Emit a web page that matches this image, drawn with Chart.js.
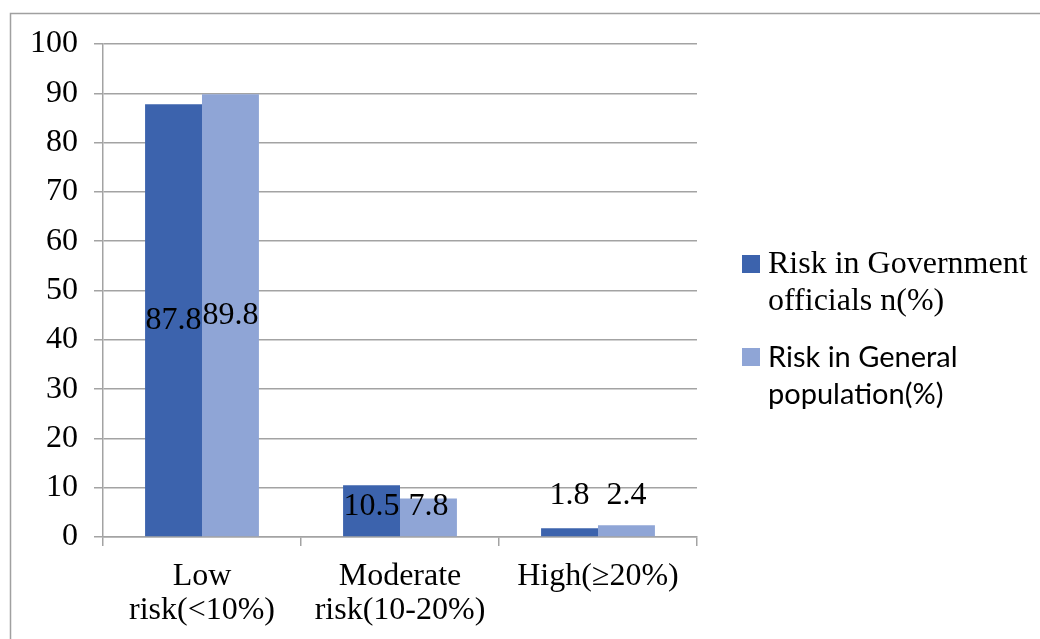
<!DOCTYPE html>
<html><head><meta charset="utf-8">
<script src="https://cdn.jsdelivr.net/npm/chart.js@4.4.0/dist/chart.umd.min.js"></script>
<style>html,body{margin:0;padding:0;background:#fff;overflow:hidden}</style>
</head><body>
<canvas id="c" width="1040" height="639"></canvas>
<script>
const categories = [['Low', 'risk(<10%)'], ['Moderate', 'risk(10-20%)'], ['High(≥20%)']];
const govValues = [87.8, 10.5, 1.8];
const popValues = [89.8, 7.8, 2.4];
const seriesNames = ['Risk in Government officials n(%)', 'Risk in General population(%)'];
const legendLines = [['Risk in Government', 'officials n(%)'], ['Risk in General', 'population(%)']];
const yMin = 0, yMax = 100, yStep = 10;

const SERIF = '"Liberation Serif", "Times New Roman", Times, "DejaVu Serif", serif';
const colors = ['#3C63AD', '#8FA5D6'];
const legendFonts = ['32px ' + SERIF, '29px Lato, "Open Sans", sans-serif'];
const gridColor = '#a3a3a3';

const framePlugin = {
  id: 'frame',
  beforeDraw(chart) {
    const ctx = chart.ctx;
    ctx.save();
    ctx.fillStyle = '#fff';
    ctx.fillRect(0, 0, chart.width, chart.height);
    ctx.strokeStyle = '#a0a0a0';
    ctx.lineWidth = 1.5;
    ctx.beginPath();
    ctx.moveTo(10.5, chart.height);
    ctx.lineTo(10.5, 13.5);
    ctx.lineTo(chart.width, 13.5);
    ctx.stroke();
    ctx.restore();
  }
};

const labelPlugin = {
  id: 'barLabels',
  afterDatasetsDraw(chart) {
    const ctx = chart.ctx;
    const base = chart.scales.y.getPixelForValue(0);
    ctx.save();
    ctx.font = '32px ' + SERIF;
    ctx.fillStyle = '#000';
    ctx.textAlign = 'center';
    ctx.textBaseline = 'middle';
    const n = chart.data.labels.length;
    for (let i = 0; i < n; i++) {
      let minTop = Infinity, maxH = 0;
      chart.data.datasets.forEach((ds, d) => {
        const el = chart.getDatasetMeta(d).data[i];
        minTop = Math.min(minTop, el.y);
        maxH = Math.max(maxH, base - el.y);
      });
      chart.data.datasets.forEach((ds, d) => {
        const el = chart.getDatasetMeta(d).data[i];
        let y;
        if (maxH < 20) {
          y = minTop - 30;
        } else {
          y = Math.min((el.y + base) / 2, base - 30);
        }
        ctx.fillText(String(ds.data[i]), el.x, y);
      });
    }
    ctx.restore();
  }
};

const legendPlugin = {
  id: 'sideLegend',
  afterDraw(chart) {
    const ctx = chart.ctx;
    ctx.save();
    const tops = [264, 357];
    chart.data.datasets.forEach((ds, d) => {
      const cy = tops[d];
      ctx.fillStyle = ds.backgroundColor;
      ctx.fillRect(742, cy - 9, 18, 18);
      ctx.fillStyle = '#000';
      ctx.font = legendFonts[d];
      ctx.textAlign = 'left';
      ctx.textBaseline = 'middle';
      legendLines[d].forEach((line, k) => {
        ctx.fillText(line, 768, cy + 1 + k * 37);
      });
    });
    ctx.restore();
  }
};

new Chart(document.getElementById('c'), {
  type: 'bar',
  data: {
    labels: categories,
    datasets: [
      { label: seriesNames[0], data: govValues, backgroundColor: colors[0], categoryPercentage: 0.575, barPercentage: 1.0 },
      { label: seriesNames[1], data: popValues, backgroundColor: colors[1], categoryPercentage: 0.575, barPercentage: 1.0 }
    ]
  },
  options: {
    responsive: false,
    animation: false,
    layout: { padding: { top: 44, right: 343, left: 0, bottom: 0 } },
    plugins: { legend: { display: false }, tooltip: { enabled: false } },
    scales: {
      x: {
        grid: { display: true, drawOnChartArea: false, drawTicks: true, tickLength: 9, color: gridColor, lineWidth: 1.5, offset: true },
        border: { color: gridColor, width: 1.5 },
        ticks: { font: { family: SERIF, size: 32, lineHeight: 1.07 }, color: '#000', padding: 13, maxRotation: 0, autoSkip: false },
        afterFit(s) { s.height = 102; }
      },
      y: {
        min: yMin, max: yMax,
        grid: { color: gridColor, lineWidth: 1.5, tickLength: 9 },
        border: { color: gridColor, width: 1.5 },
        ticks: { stepSize: yStep, font: { family: SERIF, size: 32 }, color: '#000', padding: 16 },
        afterFit(s) { s.width = 103; }
      }
    }
  },
  plugins: [framePlugin, labelPlugin, legendPlugin]
});
</script>
</body></html>
